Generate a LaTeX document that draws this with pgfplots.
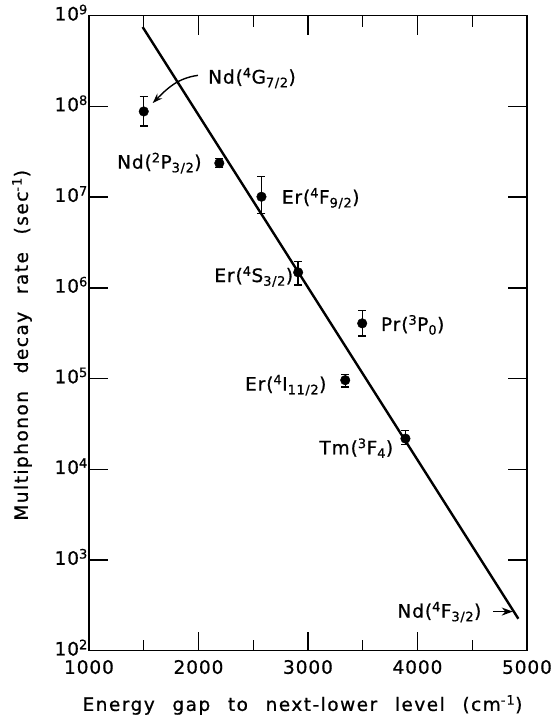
\documentclass[border=0pt]{standalone}
\usepackage{fontspec}
\setmainfont{DejaVu Sans}[LetterSpace=5,WordSpace=1.6,FakeBold=0.8]
\newfontfamily\labelfont{DejaVu Sans}[LetterSpace=8,WordSpace=2.4,FakeBold=0.8]
\usepackage{pgfplots}
\usepackage{pgfplotstable}
\pgfplotsset{compat=1.18}
\usetikzlibrary{arrows.meta}
\pgfplotstableread{
x y ep em
1500 8.8e7 4.0e7 2.7e7
2190 2.37e7 3e6 2.5e6
2575 1.01e7 6.7e6 3.5e6
2910 1.48e6 4.6e5 4.1e5
3340 9.6e4 1.4e4 1.5e4
3495 4.06e5 1.54e5 1.1e5
3890 2.18e4 5e3 3e3
}\datatable
\begin{document}
\fontsize{18.5bp}{22bp}\selectfont
\begin{tikzpicture}
\begin{axis}[
 scale only axis, width=438bp, height=635bp,
 at={(0,0)}, anchor=south west,
 xmin=1000, xmax=5000, ymode=log, ymin=1e2, ymax=1e9,
 xtick={1000,2000,3000,4000,5000},
 minor x tick num=1,
 ytick={1e2,1e3,1e4,1e5,1e6,1e7,1e8,1e9},
 yticklabels={10\textsuperscript{2},10\textsuperscript{3},10\textsuperscript{4},10\textsuperscript{5},10\textsuperscript{6},10\textsuperscript{7},10\textsuperscript{8},10\textsuperscript{9}},
 yminorticks=false,
 major tick length=19bp, minor tick length=11bp,
 axis line style={line width=1.6bp},
 every tick/.style={line width=1.4bp, black},
 /pgf/number format/assume math mode=true,
 /pgf/number format/1000 sep={},
 xticklabel style={yshift=-3bp},
 yticklabel style={inner xsep=1bp, yshift=3bp},
 xlabel={\labelfont Energy gap to next-lower level (cm\textsuperscript{-1})},
 ylabel={\labelfont Multiphonon decay rate (sec\textsuperscript{-1})},
 xlabel style={at={(axis description cs:0.4875,-0.0855)},anchor=center},
 ylabel style={at={(axis description cs:-0.153,0.481)},anchor=center},
 clip=false,
]
\addplot[no marks, line width=2.4bp, black] coordinates {(1490,7.5e8) (4921,225)};
\addplot[only marks, mark=*, mark size=4.8bp, black,
 error bars/.cd, y dir=both, y explicit,
 error bar style={line width=1.4bp},
 error mark options={rotate=90, mark size=4bp, line width=1.4bp}]
 table[x=x, y=y, y error plus=ep, y error minus=em] {\datatable};
\node[anchor=west, inner sep=0] at (axis cs:2087,2.05e8) {Nd(\textsuperscript{4}G\textsubscript{7/2})};
\node[anchor=east, inner sep=0] at (axis cs:2030,2.37e7) {Nd(\textsuperscript{2}P\textsubscript{3/2})};
\node[anchor=west, inner sep=0] at (axis cs:2760,9.7e6) {Er(\textsuperscript{4}F\textsubscript{9/2})};
\node[anchor=east, inner sep=0] at (axis cs:2866,1.33e6) {Er(\textsuperscript{4}S\textsubscript{3/2})};
\node[anchor=west, inner sep=0] at (axis cs:3665,3.9e5) {Pr(\textsuperscript{3}P\textsubscript{0})};
\node[anchor=east, inner sep=0] at (axis cs:3170,8.45e4) {Er(\textsuperscript{4}I\textsubscript{11/2})};
\node[anchor=east, inner sep=0] at (axis cs:3780,1.71e4) {Tm(\textsuperscript{3}F\textsubscript{4})};
\node[anchor=east, inner sep=0] at (axis cs:4585,266) {Nd(\textsuperscript{4}F\textsubscript{3/2})};
\draw[line width=1.4bp, -{Stealth[length=10bp,width=7bp]}] (axis cs:1995,2.2e8) to[out=188,in=45] (axis cs:1582,1.09e8);
\draw[line width=1.6bp, -{Stealth[length=11bp,width=8bp]}] (axis cs:4690,270) -- (axis cs:4870,270);
\end{axis}
\pgfresetboundingbox
\path[use as bounding box] (-89bp,-69.3bp) rectangle (462bp,650.7bp);
\end{tikzpicture}
\end{document}
